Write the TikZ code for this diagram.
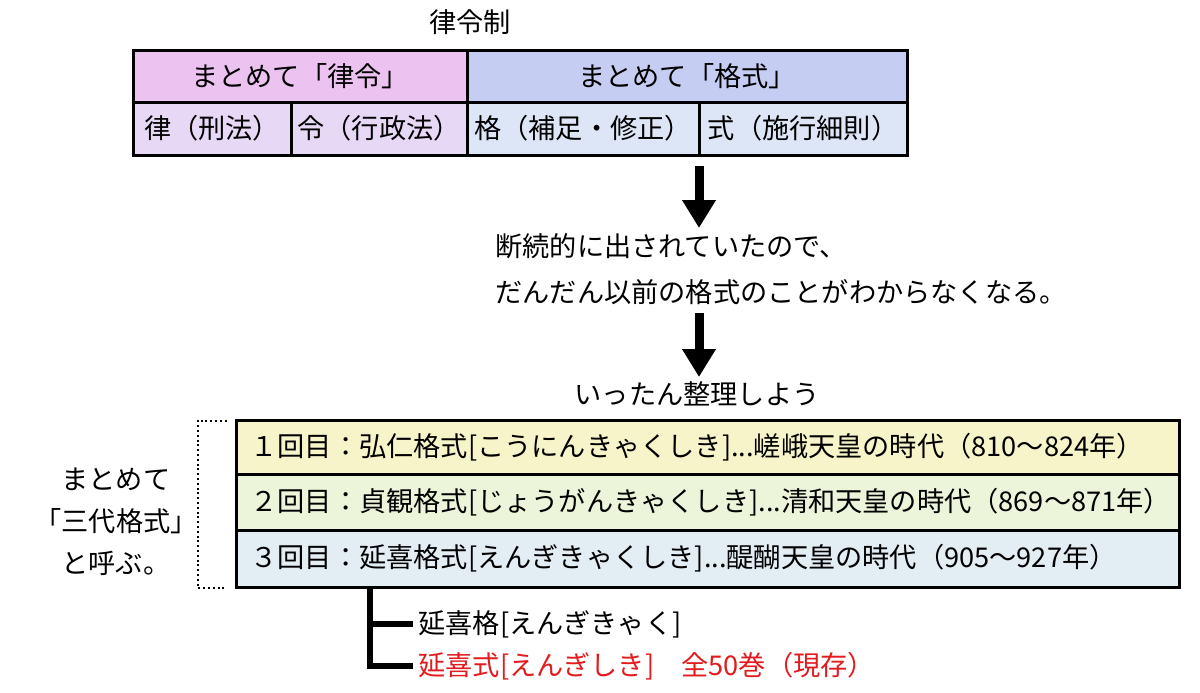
\documentclass[tikz,border=0pt]{standalone}
\usepackage{fontspec}
\setmainfont{Noto Sans CJK JP}
\usetikzlibrary{arrows.meta,positioning,calc}

\definecolor{ritsupink}{RGB}{236,194,240}
\definecolor{kakublue}{RGB}{197,205,242}
\definecolor{ritsulight}{RGB}{231,216,246}
\definecolor{kakulight}{RGB}{221,230,246}
\definecolor{rowyellow}{RGB}{248,244,201}
\definecolor{rowgreen}{RGB}{236,245,217}
\definecolor{rowblue}{RGB}{226,237,244}
\definecolor{engired}{RGB}{226,27,30}

\tikzset{
  jp/.style={font=\fontsize{13.6pt}{16pt}\selectfont},
  cell/.style={draw, line width=1.5pt, inner sep=0pt, jp},
  rowbox/.style={draw, line width=1.5pt, minimum width=471.5pt, text width=457pt,
    align=left, inner xsep=7pt, inner ysep=0pt, jp},
  plain/.style={inner sep=0pt, jp},
  downarrow/.style={line width=4.5pt, -{Triangle[width=16pt,length=14pt]}},
  branch/.style={line width=3pt},
  dotbracket/.style={line width=1pt, dash pattern=on 1pt off 1.4pt},
}

\begin{document}
\begin{tikzpicture}[x=0.5pt, y=-0.5pt]
  \useasboundingbox (0,0) rectangle (1200,692);

  \node[plain] (title) at (470,22) {律令制};

  % upper table
  \node[cell, fill=ritsupink, minimum width=167pt, minimum height=26pt] (ritsuryo) at (300,76.5) {まとめて「律令」};
  \node[cell, fill=kakublue, minimum width=220pt, minimum height=26pt] (kakushiki) at (687,76.5) {まとめて「格式」};
  \node[cell, fill=ritsulight, minimum width=79pt, minimum height=26.5pt] (ritsu) at (212,128.5) {律（刑法）};
  \node[cell, fill=ritsulight, minimum width=88pt, minimum height=26.5pt] (ryo) at (379,128.5) {令（行政法）};
  \node[cell, fill=kakulight, minimum width=116pt, minimum height=26.5pt] (kaku) at (583,128.5) {格（補足・修正）};
  \node[cell, fill=kakulight, minimum width=104pt, minimum height=26.5pt] (shiki) at (803,128.5) {式（施行細則）};

  \coordinate (arrAtop) at (699,166);
  \coordinate (arrAend) at (699,228);
  \draw[downarrow] (arrAtop) -- (arrAend);

  \node[plain, anchor=west] (reasonA) at (495,246) {断続的に出されていたので、};
  \node[plain, anchor=west] (reasonB) at (495,292) {だんだん以前の格式のことがわからなくなる。};

  \coordinate (arrBtop) at (699,313);
  \coordinate (arrBend) at (699,377);
  \draw[downarrow] (arrBtop) -- (arrBend);

  \node[plain] (seiri) at (697,394) {いったん整理しよう};

  % three kyakushiki
  \node[rowbox, fill=rowyellow, minimum height=27pt] (konin) at (707.5,447) {１回目：弘仁格式[こうにんきゃくしき]...嵯峨天皇の時代（810〜824年）};
  \node[rowbox, fill=rowgreen, minimum height=28pt] (jogan) at (707.5,502) {２回目：貞観格式[じょうがんきゃくしき]...清和天皇の時代（869〜871年）};
  \node[rowbox, fill=rowblue, minimum height=28.5pt] (engi) at (707.5,558.5) {３回目：延喜格式[えんぎきゃくしき]...醍醐天皇の時代（905〜927年）};

  \draw[dotbracket] ([xshift=-4pt,yshift=-1pt]konin.north west) -- ++(-29,0) |- ([xshift=-4pt,yshift=0.5pt]engi.south west);
  \node[plain, align=center, font=\fontsize{13.6pt}{21pt}\selectfont] (sandai) at (116,522) {まとめて\\「三代格式」\\と呼ぶ。};

  % engi split
  \coordinate (brtop) at (370,587);
  \node[plain, anchor=west, inner xsep=2.5pt] (engikaku) at (413,624) {延喜格[えんぎきゃく]};
  \node[plain, anchor=west, inner xsep=2.5pt, text=engired] (engishiki) at (413,666) {延喜式[えんぎしき]　全50巻（現存）};
  \draw[branch] (brtop) |- (engikaku.west);
  \draw[branch] (brtop) |- (engishiki.west);

\end{tikzpicture}
\end{document}
